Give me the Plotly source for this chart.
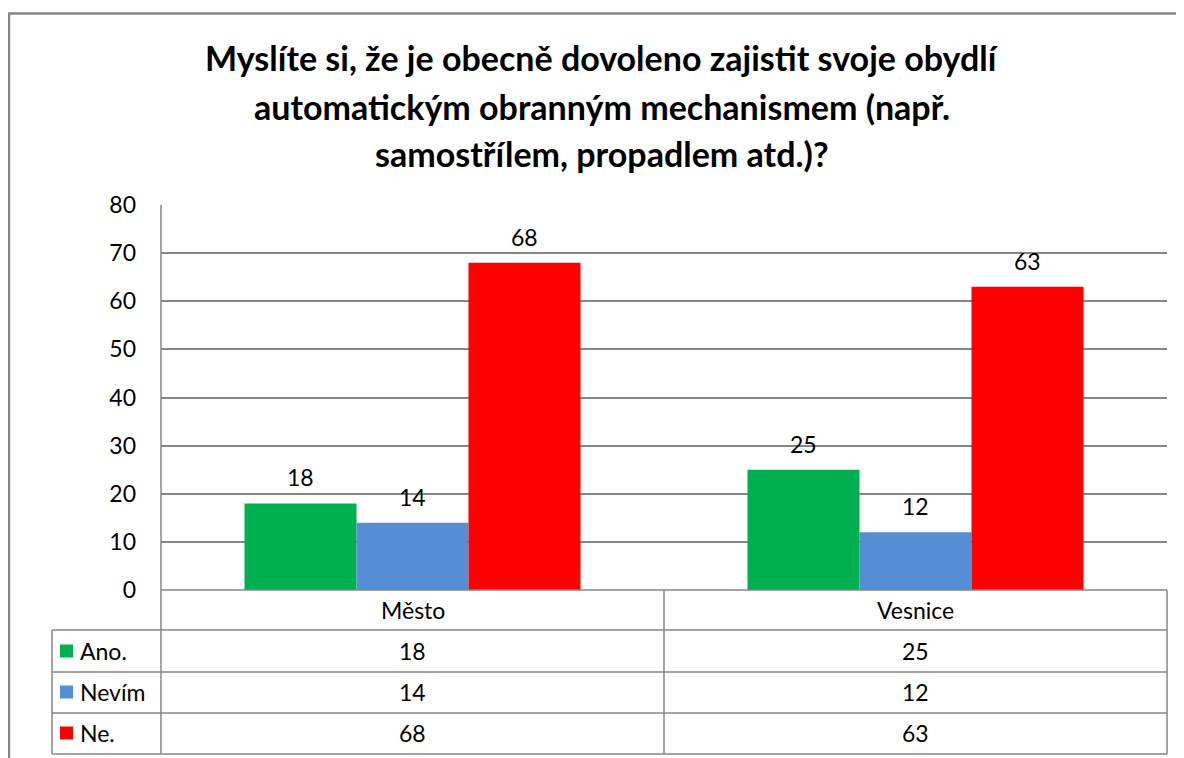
import plotly.graph_objects as go

categories = ["Město", "Vesnice"]
series_names = ["Ano.", "Nevím", "Ne."]
ano = [18, 25]
nevim = [14, 12]
ne = [68, 63]
colors = ["#00B050", "#558ED5", "#FF0000"]
title_lines = [
    "Myslíte si, že je obecně dovoleno zajistit svoje obydlí",
    "automatickým obranným mechanismem (např.",
    "samostřílem, propadlem atd.)?",
]
y_ticks = [0, 10, 20, 30, 40, 50, 60, 70, 80]

# page body has an 8px margin, so the figure starts at (8, 8)
OFF = 8
W, H = 1184 - OFF, 758 - OFF
FONT = "Lato"
GRID = "#868686"
FS = 23


def px(x):
    return (x - OFF) / W


def py(y):
    return 1 - (y - OFF) / H


series = [ano, nevim, ne]
fig = go.Figure()
for name, vals, col in zip(series_names, series, colors):
    fig.add_trace(go.Bar(x=categories, y=vals, name=name, marker=dict(color=col, line=dict(width=0)),
                         showlegend=False))

annotations = []
# title
for line, yc in zip(title_lines, [58, 106, 153]):
    annotations.append(dict(text=f"<b>{line}</b>", x=px(602), y=py(yc), xref="paper", yref="paper",
                            xanchor="center", yanchor="middle", showarrow=False,
                            font=dict(family=FONT, size=34, color="#000000")))

# data labels above bars
bar_w = 112
for si, vals in enumerate(series):
    for ci, cat in enumerate(categories):
        annotations.append(dict(text=str(vals[ci]), x=cat, y=vals[ci], xref="x", yref="y",
                                xshift=(si - 1) * bar_w, yshift=26, showarrow=False,
                                xanchor="center", yanchor="middle",
                                font=dict(family=FONT, size=FS, color="#000000")))

# category labels in table header row
for cat in categories:
    annotations.append(dict(text=cat, x=cat, y=py(610), xref="x", yref="paper", showarrow=False,
                            xanchor="center", yanchor="middle",
                            font=dict(family=FONT, size=FS, color="#000000")))

shapes = []
row_centers = [651, 692, 733]
for si, (name, vals, col) in enumerate(zip(series_names, series, colors)):
    yc = row_centers[si]
    shapes.append(dict(type="rect", xref="paper", yref="paper", x0=px(60), x1=px(73),
                       y0=py(yc - 6.5), y1=py(yc + 6.5), fillcolor=col, line=dict(width=0)))
    annotations.append(dict(text=name, x=px(78), y=py(yc), xref="paper", yref="paper", showarrow=False,
                            xanchor="left", yanchor="middle",
                            font=dict(family=FONT, size=FS, color="#000000")))
    for ci, cat in enumerate(categories):
        annotations.append(dict(text=str(vals[ci]), x=cat, y=py(yc), xref="x", yref="paper",
                                showarrow=False, xanchor="center", yanchor="middle",
                                font=dict(family=FONT, size=FS, color="#000000")))


def hline(y, x0, x1, w=1.5):
    shapes.append(dict(type="line", xref="paper", yref="paper", x0=px(x0), x1=px(x1), y0=py(y), y1=py(y),
                       line=dict(color=GRID, width=w)))


def vline(x, y0, y1, w=1.5):
    shapes.append(dict(type="line", xref="paper", yref="paper", x0=px(x), x1=px(x), y0=py(y0), y1=py(y1),
                       line=dict(color=GRID, width=w)))

hline(590, 161, 1167)
for y in [630, 672, 713, 754]:
    hline(y, 52, 1167)
vline(161, 205, 754)
vline(664, 590, 754)
vline(1167, 590, 754)
vline(52, 630, 754)

# outer chart border
hline(13.5, 8, 1184, 2.5)
vline(9, 13, 758, 2.5)

fig.update_layout(
    width=W, height=H,
    margin=dict(l=0, r=0, t=0, b=0),
    paper_bgcolor="white", plot_bgcolor="white",
    barmode="group", bargap=0.332, bargroupgap=0,
    xaxis=dict(domain=[px(161), px(1167)], range=[-0.5, 1.5], showticklabels=False, showgrid=False,
               zeroline=False, showline=False, ticks="", automargin=False),
    yaxis=dict(domain=[py(590), py(205)], range=[0, 80], tickvals=y_ticks, showgrid=True, gridcolor=GRID,
               gridwidth=1.5, zeroline=False, showline=False, ticks="", automargin=False,
               ticklabelstandoff=24,
               tickfont=dict(family=FONT, size=FS, color="#000000")),
    annotations=annotations,
    shapes=shapes,
)

fig.write_html("out.html")
